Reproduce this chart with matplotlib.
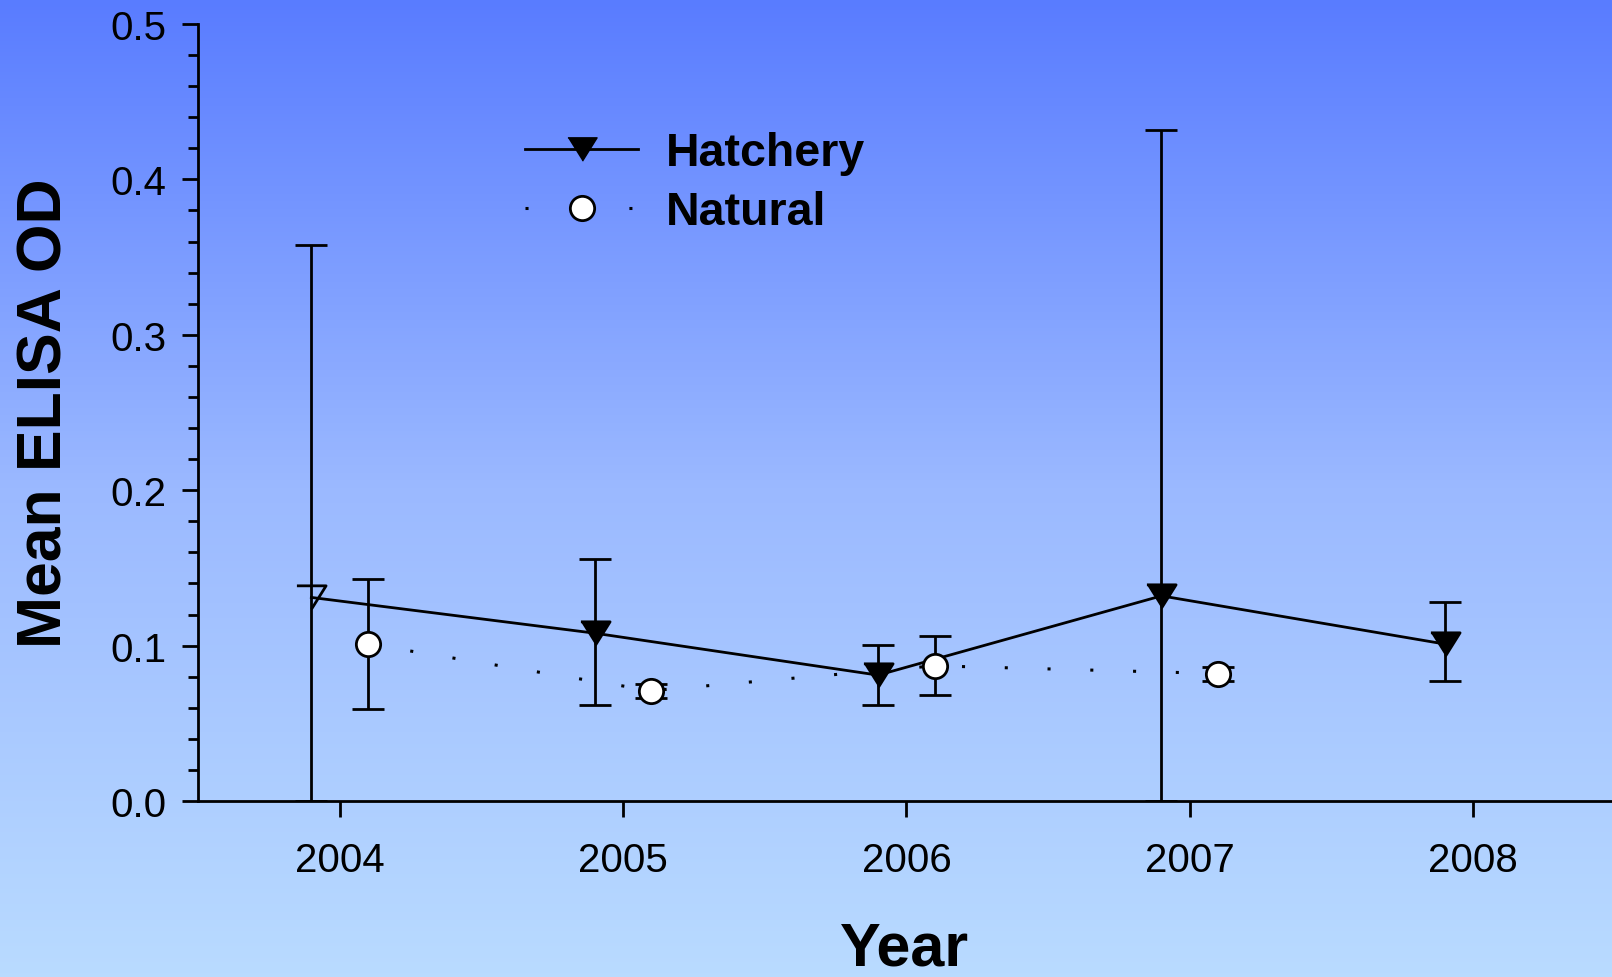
import numpy as np
import matplotlib
matplotlib.use("Agg")
import matplotlib.pyplot as plt
from matplotlib.colors import LinearSegmentedColormap
from matplotlib.ticker import MultipleLocator, FormatStrFormatter

plt.rcParams['font.family'] = ['Liberation Sans', 'DejaVu Sans']

# Mean ELISA optical density by year, with error bar limits
years = [2004, 2005, 2006, 2007, 2008]
hatchery_mean = [0.131, 0.108, 0.081, 0.132, 0.101]
hatchery_upper = [0.358, 0.156, 0.1005, 0.432, 0.128]
hatchery_lower = [0.0, 0.062, 0.062, 0.0, 0.077]
hatchery_open = [True, False, False, False, False]

natural_years = [2004, 2005, 2006, 2007]
natural_mean = [0.101, 0.071, 0.087, 0.082]
natural_upper = [0.143, 0.0755, 0.106, 0.086]
natural_lower = [0.059, 0.066, 0.068, 0.077]

x_ticks = [2004, 2005, 2006, 2007, 2008]
offset = 0.1

W, H = 1612, 978
fig = plt.figure(figsize=(W / 100, H / 100), dpi=100)

# vertical blue gradient behind everything
bg = fig.add_axes([0, 0, 1, 1], zorder=-10)
cmap = LinearSegmentedColormap.from_list("bg", ["#597cff", "#9bb9ff", "#b9dbff"])
grad = np.linspace(0, 1, 256).reshape(-1, 1)
bg.imshow(grad, aspect="auto", cmap=cmap, extent=[0, 1, 0, 1], origin="upper")
bg.set_axis_off()

left, right, bottom, top = 198, 1612, 802, 25
ax = fig.add_axes([left / W, 1 - bottom / H, (right - left) / W, (bottom - top) / H])
ax.patch.set_visible(False)

LW = 2.0
DOTS = (0, (1, 13))
tri = [(-1, 0.8), (1, 0.8), (0, -0.8)]
TRI_MS = 21
CIRC_MS = 17.5

hx = np.array(years) - offset
hm = np.array(hatchery_mean)
h_err = [hm - np.array(hatchery_lower), np.array(hatchery_upper) - hm]

nx = np.array(natural_years) + offset
nm = np.array(natural_mean)
n_err = [nm - np.array(natural_lower), np.array(natural_upper) - nm]

# Hatchery: solid line, error bars, downward triangles
ax.errorbar(hx, hm, yerr=h_err, fmt="none", ecolor="black", elinewidth=LW,
            capsize=11.5, capthick=LW, zorder=2)
ax.plot(hx, hm, color="black", lw=LW, zorder=3)
for xi, yi, is_open in zip(hx, hm, hatchery_open):
    ax.plot([xi], [yi], marker=tri, ms=TRI_MS, mec="black", mew=LW,
            mfc="none" if is_open else "black", ls="none", zorder=4)

# Natural: dotted line, error bars, white circles
ax.errorbar(nx, nm, yerr=n_err, fmt="none", ecolor="black", elinewidth=LW,
            capsize=11.5, capthick=LW, zorder=5)
ax.plot(nx, nm, color="black", lw=2.2, ls=DOTS, zorder=5)
ax.plot(nx, nm, marker="o", ms=CIRC_MS, mfc="white", mec="black", mew=LW,
        ls="none", zorder=6)

ax.set_xlim(2003.5, 2008.49)
ax.set_ylim(0, 0.5)
ax.set_xticks(x_ticks)
ax.set_xticklabels([str(y) for y in x_ticks])
ax.yaxis.set_major_locator(MultipleLocator(0.1))
ax.yaxis.set_minor_locator(MultipleLocator(0.02))
ax.yaxis.set_major_formatter(FormatStrFormatter("%.1f"))

for s in ["top", "right"]:
    ax.spines[s].set_visible(False)
for s in ["left", "bottom"]:
    ax.spines[s].set_linewidth(LW)
ax.tick_params(axis="both", which="major", direction="out", length=11.5,
               width=LW, labelsize=29)
ax.tick_params(axis="x", which="major", pad=17)
ax.tick_params(axis="y", which="major", pad=11)
ax.tick_params(axis="y", which="minor", direction="out", length=7, width=LW)

ax.set_xlabel("Year", fontsize=44, fontweight="bold", labelpad=30)
ax.set_ylabel("Mean ELISA OD", fontsize=45, fontweight="bold", labelpad=26)

# legend handles
h_handle, = ax.plot([], [], color="black", lw=LW, marker=tri, ms=TRI_MS,
                    mfc="black", mec="black")
n_handle, = ax.plot([], [], color="black", lw=2.2, ls=(0, (1, 16)),
                    marker="o", ms=CIRC_MS, mfc="white", mec="black", mew=LW)
ax.legend([h_handle, n_handle], ["Hatchery", "Natural"], loc="upper left",
          bbox_to_anchor=(0.2313, 0.862), frameon=False, borderpad=0,
          borderaxespad=0, handlelength=2.43, handletextpad=0.6,
          labelspacing=0.32, numpoints=1,
          prop={"size": 33.5, "weight": "bold"})

fig.savefig("out.png", dpi=100)
